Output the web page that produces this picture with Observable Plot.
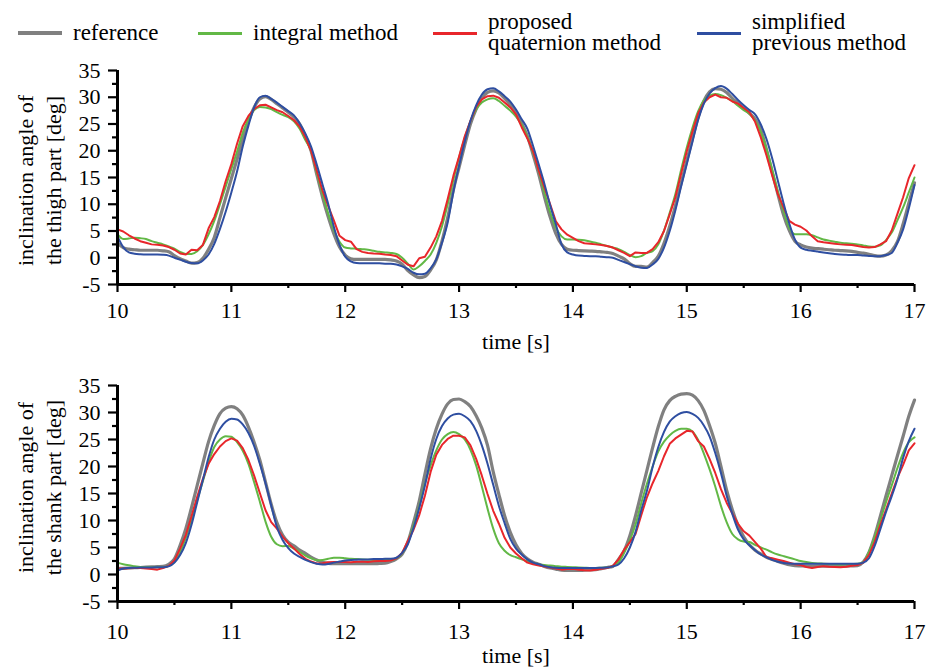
<!DOCTYPE html>
<html>
<head>
<meta charset="utf-8">
<script src="https://cdn.jsdelivr.net/npm/d3@7"></script>
<script src="https://cdn.jsdelivr.net/npm/@observablehq/plot@0.6"></script>
<style>
  html, body { margin: 0; padding: 0; background: #fff; }
  #wrap { width: 930px; font-family: "Liberation Serif", "DejaVu Serif", serif; color: #000; }
  #legend { position: relative; width: 930px; height: 58px; font-size: 23px; }
  .sw { position: absolute; height: 3px; width: 44px; }
  .lb { position: absolute; white-space: pre; line-height: 21px; transform: translateY(-50%); }
  svg { display: block; }
  svg text { font-family: "Liberation Serif", "DejaVu Serif", serif; }
</style>
</head>
<body>
<div id="wrap">
  <div id="legend"></div>
  <div id="top"></div>
  <div id="bottom"></div>
</div>
<script>
// ---------- data ----------
const seriesNames = ["reference", "integral method", "proposed\nquaternion method", "simplified\nprevious method"];
const seriesColors = ["#808080", "#62b846", "#e8262b", "#2e4ea1"];
const xTicks = [10, 11, 12, 13, 14, 15, 16, 17];
const xMinorTicks = [10.5, 11.5, 12.5, 13.5, 14.5, 15.5, 16.5];
const yTicks = [-5, 0, 5, 10, 15, 20, 25, 30, 35];
const yMinorTicks = [-2.5, 2.5, 7.5, 12.5, 17.5, 22.5, 27.5, 32.5];
const xLabel = "time [s]";
const thighLabel = "inclination angle of\nthe thigh part [deg]";
const shankLabel = "inclination angle of\nthe shank part [deg]";
// sampling grid: 10.00 s to 17.00 s every 0.05 s
const time = d3.range(0, 141).map(i => +(10 + i * 0.05).toFixed(2));

// thigh (upper panel)
const refThigh = [
  2.8,1.9,1.6,1.5,1.4,1.4,1.4,1.4,1.3,1.1,0.4,-0.2,-0.6,-1.0,-0.9,-0.1,1.6,3.8,7.5,11.2,
  14.8,18.4,22.1,25.5,28.1,29.7,30.1,29.6,28.8,28.0,27.2,26.3,25.0,22.8,20.0,15.6,11.4,7.7,4.5,2.0,
  0.5,-0.2,-0.3,-0.3,-0.3,-0.3,-0.3,-0.3,-0.4,-0.6,-1.2,-2.4,-3.2,-3.7,-3.5,-2.3,-0.4,3.1,7.5,12.7,
  16.9,21.1,25.0,27.8,29.8,30.9,31.2,30.8,29.8,28.6,27.0,25.1,22.7,19.3,15.6,11.4,7.6,4.5,2.5,1.6,
  1.4,1.35,1.3,1.25,1.2,1.1,1.0,0.8,0.3,-0.2,-1.1,-1.6,-1.6,-1.75,-0.9,0.3,2.7,5.9,9.7,13.9,
  18.1,22.3,26.3,29.3,31.0,31.6,31.5,30.9,29.8,28.9,27.9,27.0,25.9,23.9,20.2,16.0,11.9,8.0,5.1,3.1,
  2.4,2.0,1.8,1.7,1.6,1.5,1.4,1.35,1.3,1.2,1.0,0.85,0.65,0.4,0.3,0.5,1.3,3.0,6.3,10.2,
  14.0];
const intThigh = [
  4.4,3.5,3.6,3.75,3.65,3.5,3.1,2.8,2.5,2.1,1.7,1.1,0.7,0.7,1.2,2.4,4.4,6.9,10.0,13.3,
  16.6,19.8,23.4,25.9,27.6,28.2,28.1,27.8,27.2,26.7,26.3,25.5,24.1,22.0,20.0,15.9,12.0,8.3,5.2,3.0,
  1.9,1.75,1.7,1.6,1.5,1.3,1.1,1.0,0.9,0.7,0.0,-1.1,-2.2,-1.6,-0.6,0.6,2.8,5.9,10.0,14.6,
  18.75,22.4,25.5,27.7,29.0,29.6,29.8,29.3,28.4,27.5,26.4,24.8,22.6,19.7,16.25,12.1,8.5,5.6,4.0,3.4,
  3.4,3.35,3.25,3.05,2.8,2.5,2.2,1.9,1.6,1.1,0.5,0.1,0.3,0.9,1.25,2.5,5.1,8.4,11.9,16.4,
  20.6,24.3,27.4,29.4,30.3,30.6,30.4,29.9,29.3,28.4,27.6,26.9,25.6,23.5,20.3,16.5,12.4,8.75,5.6,4.4,
  4.4,4.4,4.2,3.8,3.4,3.2,3.0,2.8,2.7,2.6,2.5,2.3,2.1,2.05,2.3,3.3,4.7,7.0,9.4,12.2,
  15.0];
const quatThigh = [
  5.3,4.9,4.2,3.6,3.1,2.8,2.5,2.45,2.3,2.0,1.5,0.8,0.6,1.5,1.4,2.4,5.5,7.6,10.6,14.3,
  17.5,21.3,24.6,26.5,27.8,28.5,28.6,28.1,27.6,27.2,26.5,25.7,24.5,22.5,20.0,16.25,12.6,9.7,7.0,4.1,
  3.3,3.0,1.6,1.1,0.9,0.8,0.75,0.6,0.5,0.3,-0.5,-1.3,-1.6,-0.1,0.2,1.9,4.0,6.9,11.0,15.3,
  18.9,22.7,25.6,28.2,29.6,30.2,30.3,29.9,29.0,28.1,26.8,24.4,22.3,19.9,16.3,13.1,10.0,6.8,5.3,4.3,
  3.7,3.1,2.7,2.6,2.5,2.4,2.2,1.9,1.4,0.9,0.3,1.0,0.9,0.9,1.6,2.9,5.0,8.1,11.3,15.7,
  19.9,23.6,27.0,29.0,30.0,30.5,30.0,29.9,29.2,28.8,28.0,27.2,25.4,22.5,19.1,15.4,11.9,9.4,6.9,6.2,
  5.8,5.1,4.0,3.1,2.9,2.75,2.6,2.5,2.45,2.4,2.2,2.0,1.9,2.0,2.5,3.1,5.1,8.2,11.3,14.9,
  17.3];
const simpThigh = [
  4.0,2.0,1.0,0.75,0.65,0.6,0.6,0.6,0.55,0.4,0.0,-0.35,-0.75,-1.0,-1.05,-0.5,0.6,2.6,5.4,8.6,
  12.2,16.1,20.8,24.7,28.1,30.0,30.3,29.7,29.0,28.2,27.4,26.6,25.1,23.2,20.8,17.4,13.75,10.1,5.8,2.4,
  0.2,-0.7,-1.0,-1.05,-1.05,-1.05,-1.05,-1.1,-1.1,-1.25,-1.6,-2.1,-2.8,-3.1,-3.0,-2.0,-0.3,2.8,6.6,12.3,
  17.2,21.7,25.6,28.5,30.5,31.5,31.7,31.1,30.2,29.2,27.7,25.9,24.1,20.9,17.4,13.8,9.8,6.25,2.5,1.0,
  0.6,0.4,0.35,0.3,0.3,0.2,0.1,0.0,-0.4,-0.8,-1.2,-1.6,-1.85,-1.9,-1.25,-0.2,1.9,5.0,8.9,13.3,
  17.5,21.7,25.8,28.8,30.7,31.7,32.1,31.6,30.6,29.5,28.5,27.6,26.8,24.9,22.2,18.6,14.4,10.2,6.4,3.4,
  1.9,1.5,1.3,1.15,1.0,0.85,0.7,0.6,0.55,0.5,0.5,0.4,0.35,0.3,0.3,0.5,0.9,2.8,5.3,9.2,
  13.6];

// shank (lower panel)
const refShank = [
  1.1,1.15,1.2,1.25,1.3,1.35,1.4,1.45,1.5,1.9,2.9,5.4,8.5,12.4,16.5,20.6,24.6,27.6,29.8,30.8,
  31.1,30.7,29.5,27.3,24.5,21.2,17.1,13.0,9.6,7.3,6.0,5.3,4.5,3.9,3.2,2.7,2.25,2.05,2.0,2.0,
  2.0,2.0,2.0,2.0,2.0,2.0,2.05,2.1,2.4,2.9,3.8,6.0,9.6,13.6,18.6,23.3,27.0,29.7,31.6,32.4,
  32.5,32.0,31.1,29.4,27.1,23.9,19.0,14.8,10.9,7.8,5.5,3.9,2.9,2.3,1.9,1.5,1.2,1.0,0.8,0.75,
  0.75,0.75,0.8,0.85,0.9,1.1,1.3,1.5,2.8,4.4,7.2,10.9,15.1,19.3,23.5,27.4,30.5,32.2,33.0,33.4,
  33.5,33.2,32.2,30.4,27.6,24.3,20.0,15.6,12.0,9.1,7.0,5.5,4.5,3.8,3.2,2.8,2.4,2.1,1.8,1.65,
  1.6,1.55,1.55,1.55,1.55,1.55,1.55,1.55,1.55,1.6,1.65,2.3,4.1,7.1,10.8,14.6,18.3,22.0,25.6,29.3,
  32.3];
const intShank = [
  2.2,1.9,1.7,1.55,1.4,1.35,1.35,1.35,1.35,1.6,2.3,4.1,6.8,10.1,13.8,17.3,20.8,23.6,25.0,25.6,
  25.5,24.5,22.9,20.5,17.1,13.5,9.8,7.0,5.6,5.25,5.3,4.8,4.2,3.5,3.0,2.65,2.7,2.9,3.1,3.1,
  3.0,2.9,2.85,2.8,2.75,2.7,2.7,2.7,2.7,3.0,3.9,6.0,9.0,12.6,16.8,20.2,23.0,25.0,26.0,26.4,
  26.0,25.0,23.1,20.2,16.3,12.2,8.5,5.8,4.4,3.6,3.2,2.8,2.45,2.15,1.9,1.75,1.65,1.55,1.45,1.4,
  1.35,1.3,1.25,1.2,1.2,1.25,1.3,1.6,2.2,4.0,6.3,9.3,13.2,16.8,20.0,22.8,24.6,25.8,26.6,27.0,
  27.0,26.5,24.9,22.4,19.5,16.3,12.7,9.7,7.5,6.5,6.1,6.0,5.5,5.0,4.6,4.1,3.7,3.4,3.1,2.8,
  2.5,2.3,2.15,2.05,2.0,1.95,1.9,1.85,1.9,1.95,2.0,2.3,4.2,6.9,10.1,13.4,16.5,19.7,22.5,24.5,
  25.4];
const quatShank = [
  1.05,1.1,1.15,1.2,1.2,1.1,1.0,0.9,1.2,1.6,2.6,4.8,7.3,10.8,14.4,17.7,20.5,22.3,23.7,24.7,
  25.2,24.8,23.4,21.2,18.3,15.1,11.9,9.7,8.5,7.0,5.8,4.8,3.8,2.9,2.4,2.05,2.1,2.25,2.3,2.3,
  2.3,2.25,2.35,2.4,2.3,2.45,2.5,2.5,2.6,3.0,4.0,6.2,8.3,11.0,14.6,19.0,22.2,24.0,25.1,25.7,
  25.7,25.4,23.9,21.4,18.3,14.9,11.8,9.4,6.8,5.0,3.9,3.0,2.2,1.9,1.65,1.5,1.3,1.1,0.9,1.0,
  1.05,0.9,0.8,0.75,0.9,1.05,1.2,1.6,2.8,4.6,6.0,7.5,11.0,14.3,16.9,19.2,21.9,24.2,25.2,25.9,
  26.6,26.5,24.7,23.7,21.4,18.8,15.8,13.3,11.3,9.4,8.0,7.2,6.0,4.8,3.2,3.0,2.75,2.5,2.2,1.9,
  1.75,1.4,1.2,1.4,1.55,1.45,1.4,1.35,1.45,1.6,1.75,2.2,3.6,6.0,9.2,12.0,15.0,17.9,20.3,23.0,
  24.3];
const simpShank = [
  0.75,1.1,1.2,1.25,1.3,1.3,1.3,1.35,1.35,1.5,2.2,3.6,5.8,9.2,13.4,17.5,21.7,25.0,27.0,28.3,
  28.85,28.7,27.8,26.2,23.8,20.5,16.9,12.8,8.8,6.4,4.9,3.9,3.25,2.7,2.3,2.0,1.85,1.95,2.2,2.4,
  2.6,2.7,2.75,2.8,2.8,2.85,2.85,2.9,2.9,3.1,4.0,5.6,8.6,12.3,16.5,21.4,25.1,27.5,28.9,29.6,
  29.75,29.3,28.4,26.6,23.9,20.5,16.6,12.7,9.5,6.6,4.8,3.7,2.8,2.2,1.9,1.55,1.35,1.25,1.2,1.2,
  1.2,1.2,1.2,1.2,1.2,1.25,1.3,1.5,1.85,3.0,5.0,7.9,11.9,15.5,19.9,23.6,26.4,28.3,29.3,29.9,
  30.1,29.75,29.0,27.6,25.6,22.5,18.8,14.6,11.2,8.3,6.5,5.4,4.5,3.7,3.2,2.7,2.35,2.15,2.05,2.0,
  2.0,2.0,2.0,2.0,2.0,2.0,2.0,2.0,2.0,2.0,2.0,2.2,3.0,5.3,8.4,11.6,14.5,17.7,21.6,24.7,
  27.0];

// ---------- legend ----------
const legend = document.getElementById("legend");
const legendLeft = [18, 198, 433, 697];
seriesNames.forEach((name, i) => {
  const sw = document.createElement("div");
  sw.className = "sw";
  sw.style.left = legendLeft[i] + "px";
  sw.style.top = (i === 0 ? 31 : 31.5) + "px";
  sw.style.height = (i === 0 ? 4 : 3) + "px";
  sw.style.background = seriesColors[i];
  legend.appendChild(sw);
  const lb = document.createElement("div");
  lb.className = "lb";
  lb.style.left = (legendLeft[i] + 55) + "px";
  lb.style.top = "32px";
  lb.textContent = name;
  legend.appendChild(lb);
});

// ---------- panels ----------
function panel(values, yLabel, opts) {
  const widths = [3.2, 2, 2, 2];
  const curves = ["monotone-x", "monotone-x", "linear", "monotone-x"];
  const lines = values.map((vals, k) =>
    Plot.line(vals.map((v, i) => ({t: time[i], v})), {
      x: "t", y: "v", stroke: seriesColors[k], strokeWidth: widths[k], curve: curves[k]
    })
  );
  return Plot.plot({
    width: 930,
    height: opts.height,
    marginLeft: 117,
    marginRight: 16,
    marginTop: opts.marginTop,
    marginBottom: opts.marginBottom,
    style: {fontFamily: "'Liberation Serif', 'DejaVu Serif', serif", fontSize: "22px", color: "#000", background: "#fff"},
    x: {domain: [10, 17]},
    y: {domain: [-5, 35]},
    marks: [
      Plot.axisY({ticks: yMinorTicks, tickSize: 5, tickFormat: () => "", strokeWidth: 2.2, label: null}),
      Plot.axisY({ticks: yTicks, tickSize: 9, tickPadding: 8, strokeWidth: 2.2, label: null, tickFormat: d => String(d)}),
      Plot.axisX({ticks: xMinorTicks, tickSize: 4, tickFormat: () => "", strokeWidth: 2.2, label: null}),
      Plot.axisX({ticks: xTicks, tickSize: 8, tickPadding: opts.xPad, strokeWidth: 2.2, label: null, tickFormat: d => String(d)}),
      ...lines,
      Plot.ruleY([-5], {strokeWidth: 3}),
      Plot.ruleX([10], {strokeWidth: 3}),
      Plot.text([yLabel], {text: d => d, frameAnchor: "left", textAnchor: "middle", lineAnchor: "middle", rotate: -90, dx: -79, dy: opts.yLabelDy, lineHeight: 1.27, fontSize: 22}),
      Plot.text([xLabel], {text: d => d, frameAnchor: "bottom", textAnchor: "middle", lineAnchor: "middle", dy: opts.xLabelDy, fontSize: 22})
    ]
  });
}

document.getElementById("top").appendChild(
  panel([refThigh, intThigh, quatThigh, simpThigh], thighLabel,
        {height: 300, marginTop: 12, marginBottom: 74, xPad: 10, xLabelDy: 57, yLabelDy: 3})
);
document.getElementById("bottom").appendChild(
  panel([refShank, intShank, quatShank, simpShank], shankLabel,
        {height: 311, marginTop: 27, marginBottom: 68, xPad: 14, xLabelDy: 54, yLabelDy: -6})
);
</script>
</body>
</html>
